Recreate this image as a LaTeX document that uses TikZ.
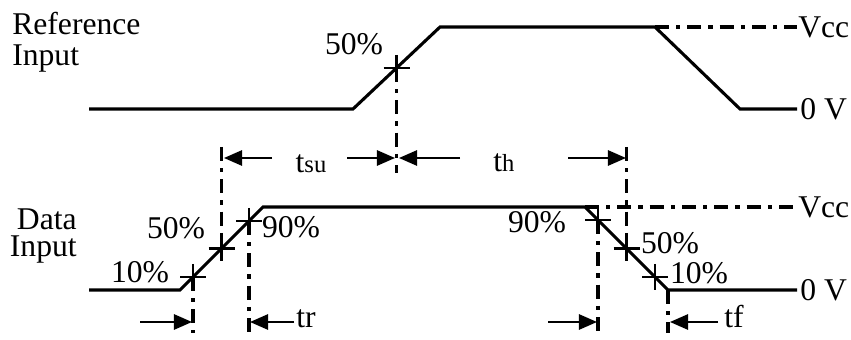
\documentclass[tikz,border=0pt]{standalone}
\usepackage{fontspec}
\setmainfont{Liberation Serif}
\usetikzlibrary{arrows.meta, positioning}
\newcommand{\subsz}{\fontsize{17.5}{18}\selectfont}

\begin{document}
\begin{tikzpicture}[
  x=0.025cm, y=-0.025cm,
  wave/.style={line width=2.2pt},
  guide/.style={line width=2.2pt, dash pattern=on 10pt off 5pt on 3pt off 5pt},
  tick/.style={line width=2pt},
  dimarrow/.style={line width=1.5pt, -{Triangle[length=4.5mm, width=3.8mm]}},
  lbl/.style={inner sep=0pt, font=\fontsize{22.5}{24}\selectfont},
  plusmark/.pic={\draw[tick] (-13,0) -- (13,0) (0,-13) -- (0,13);}
]
  \useasboundingbox (0,0) rectangle (851,340);

  % reference input waveform
  \coordinate (r0) at (89,109);
  \coordinate (r1) at (353,109);
  \coordinate (r2) at (440,27);
  \coordinate (r3) at (655,27);
  \coordinate (r4) at (740,109);
  \coordinate (r5) at (797,109);
  \coordinate (rv) at (797,27);
  \draw[wave] (r0) -- (r1) -- (r2) -- (r3) -- (r4) -- (r5);
  \draw[guide] (r3) -- (rv);
  \coordinate (rm) at (396.5,68);
  \coordinate (rmb) at (396.5,173);
  \pic at (rm) {plusmark};
  \draw[guide] (rm) -- (rmb);

  % data input waveform
  \coordinate (d0) at (89,290);
  \coordinate (d1) at (180,290);
  \coordinate (d2) at (263,207);
  \coordinate (d3) at (585,207);
  \coordinate (d4) at (668,290);
  \coordinate (d5) at (797,290);
  \coordinate (dv) at (797,207);
  \draw[wave] (d0) -- (d1) -- (d2) -- (d3) -- (d4) -- (d5);
  \draw[guide] (d3) -- (dv);
  \coordinate (dr10) at (193,277);
  \coordinate (dr50) at (221.5,248.5);
  \coordinate (dr90) at (249,221);
  \coordinate (df90) at (598,220);
  \coordinate (df50) at (626.5,248.5);
  \coordinate (df10) at (655,277);
  \foreach \c in {dr10, dr50, dr90, df90, df50, df10}
    \pic at (\c) {plusmark};

  % timing guides
  \coordinate (gl) at (221.5,147);
  \coordinate (gr) at (626.5,147);
  \coordinate (b10) at (193,333);
  \coordinate (b90) at (249,333);
  \coordinate (c90) at (598,333);
  \coordinate (c10) at (668,333);
  \draw[guide] (gl) -- (dr50);
  \draw[guide] (gr) -- (df50);
  \draw[guide] (dr10) -- (b10);
  \draw[guide] (dr90) -- (b90);
  \draw[guide] (df90) -- (c90);
  \draw[guide] (d4) -- (c10);

  % setup and hold arrows
  \coordinate (sua) at (272,158);
  \coordinate (sub) at (224,158);
  \coordinate (suc) at (347,158);
  \coordinate (sud) at (395,158);
  \coordinate (ha) at (460,158);
  \coordinate (hb) at (399,158);
  \coordinate (hc) at (568,158);
  \coordinate (hd) at (626,158);
  \draw[dimarrow] (sua) -- (sub);
  \draw[dimarrow] (suc) -- (sud);
  \draw[dimarrow] (ha) -- (hb);
  \draw[dimarrow] (hc) -- (hd);
  \node[lbl, anchor=base] (tsu) at (311,173) {t{\subsz su}};
  \node[lbl, anchor=base] (th) at (504,172) {t{\subsz h}};

  % rise and fall arrows
  \coordinate (ra) at (140,322);
  \coordinate (rb) at (192,322);
  \coordinate (rc) at (294,322);
  \coordinate (rd) at (250,322);
  \coordinate (fa) at (548,322);
  \coordinate (fb) at (597,322);
  \coordinate (fc) at (718,322);
  \coordinate (fd) at (670,322);
  \draw[dimarrow] (ra) -- (rb);
  \draw[dimarrow] (rc) -- (rd);
  \draw[dimarrow] (fa) -- (fb);
  \draw[dimarrow] (fc) -- (fd);
  \node[lbl, anchor=base west] (tr) at (296,328) {tr};
  \node[lbl, anchor=base west] (tf) at (724,328) {tf};

  % level labels
  \node[lbl, anchor=west] (rvcc) at (798,27) {Vcc};
  \node[lbl, anchor=west] (rgnd) at (800,109) {0 V};
  \node[lbl, anchor=west] (dvcc) at (798,207) {Vcc};
  \node[lbl, anchor=west] (dgnd) at (800,290) {0 V};

  % percent labels
  \node[lbl] (rp50) at (354,44) {50\%};
  \node[lbl] (dp10) at (140,272) {10\%};
  \node[lbl] (dp50) at (176,228) {50\%};
  \node[lbl] (dp90) at (291,227) {90\%};
  \node[lbl] (fp90) at (537,222) {90\%};
  \node[lbl] (fp50) at (670,243) {50\%};
  \node[lbl] (fp10) at (699,273) {10\%};

  % signal names
  \node[lbl, align=left, anchor=north west, font=\fontsize{22.5}{22}\selectfont]
    (refin) at (12,12) {Reference\\Input};
  \node[lbl, align=right, anchor=north east, font=\fontsize{22.5}{19}\selectfont]
    (datin) at (77,209) {Data\\Input};
\end{tikzpicture}
\end{document}
